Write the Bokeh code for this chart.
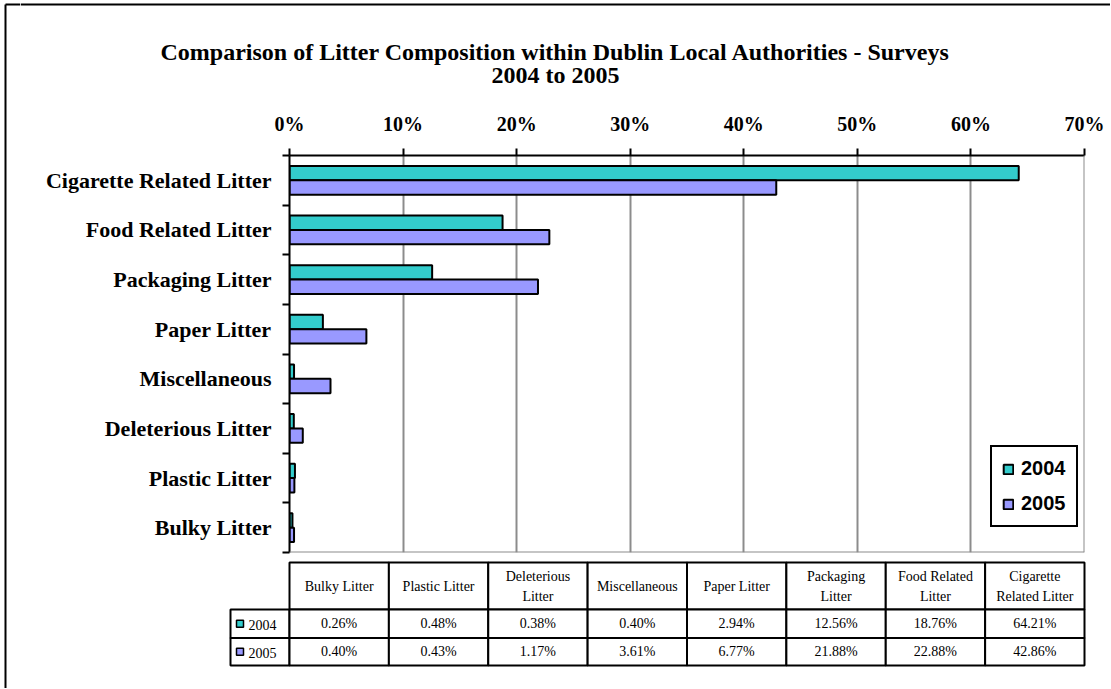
from bokeh.plotting import figure
from bokeh.layouts import row, column
from bokeh.models import (Range1d, FixedTicker, PrintfTickFormatter, Legend, LegendItem, Span,
                          Plot)
from bokeh.core.properties import value
from bokeh.embed import file_html
from bokeh.resources import INLINE

# ---------------- data ----------------
categories = ["Bulky Litter", "Plastic Litter", "Deleterious Litter", "Miscellaneous",
              "Paper Litter", "Packaging Litter", "Food Related Litter",
              "Cigarette Related Litter"]
table_headers = ["Bulky Litter", "Plastic Litter", "Deleterious\nLitter", "Miscellaneous",
                 "Paper Litter", "Packaging\nLitter", "Food Related\nLitter",
                 "Cigarette\nRelated Litter"]
years = ["2004", "2005"]
values_2004 = [0.26, 0.48, 0.38, 0.40, 2.94, 12.56, 18.76, 64.21]
values_2005 = [0.40, 0.43, 1.17, 3.61, 6.77, 21.88, 22.88, 42.86]
x_ticks = [0, 10, 20, 30, 40, 50, 60, 70]
title_lines = ["Comparison of Litter Composition within Dublin Local Authorities - Surveys",
               "2004 to 2005"]
colors = ["#33CCCC", "#9999FF"]

SERIF = "Liberation Serif"
SANS = "Liberation Sans"

# ---------------- page geometry (page px) ----------------
TOTAL_W, TOTAL_H = 1110, 688
S = 20                       # left strip width (holds outer border line)
MW = TOTAL_W - S             # main column width
HEAD_H = 100                 # title area height
TABLE_TOP = 556
CHART_H = TABLE_TOP - HEAD_H
TABLE_H = TOTAL_H - TABLE_TOP
F_LEFT, F_RIGHT, F_TOP, F_BOTTOM = 289, 1084, 155, 552

HAS_FA = "frame_align" in Plot.properties()


def no_align(f):
    if HAS_FA:
        f.frame_align = False
    return f


def canvas_fig(w, h):
    f = figure(width=w, height=h, x_range=Range1d(0, w), y_range=Range1d(h, 0),
               x_axis_type=None, y_axis_type=None, output_backend="svg",
               toolbar_location=None, min_border=0, title=None,
               outline_line_color=None, background_fill_color="white",
               border_fill_color="white")
    return no_align(f)


# ---------------- left strip (outer border) ----------------
strip = canvas_fig(S, TOTAL_H)
strip.segment(x0=[5, 5], y0=[4, 4], x1=[5, S], y1=[TOTAL_H, 4], line_color="black",
              line_width=2)

# ---------------- header with title ----------------
head = canvas_fig(MW, HEAD_H)
head.segment(x0=[0], y0=[4], x1=[MW], y1=[4], line_color="black", line_width=2)
head.text(x=[555 - S] * 2, y=[51, 74], text=title_lines, text_font=value(SERIF),
          text_font_size=value("24px"), text_font_style="bold", text_align="center",
          text_baseline="middle", text_color="black")

# ---------------- chart ----------------
n = len(categories)
p = figure(width=MW, height=CHART_H, x_range=Range1d(0, 70), y_range=Range1d(0, n),
           x_axis_location="above", output_backend="svg", toolbar_location=None,
           title=None,
           min_border_left=F_LEFT - S, min_border_right=MW - (F_RIGHT - S),
           min_border_top=F_TOP - HEAD_H, min_border_bottom=TABLE_TOP - F_BOTTOM,
           background_fill_color="white", border_fill_color="white",
           outline_line_color=None)
no_align(p)

xa = p.xaxis[0]
xa.ticker = FixedTicker(ticks=x_ticks)
xa.formatter = PrintfTickFormatter(format="%d%%")
xa.major_label_text_font = SERIF
xa.major_label_text_font_style = "bold"
xa.major_label_text_font_size = "20px"
xa.major_label_text_color = "black"
xa.axis_line_width = 2
xa.axis_line_color = "black"
xa.major_tick_line_width = 2
xa.major_tick_out = 7
xa.major_tick_in = 0
xa.minor_tick_line_color = None
xa.major_label_standoff = 14

ya = p.yaxis[0]
ya.ticker = FixedTicker(ticks=[i + 0.5 for i in range(n)], minor_ticks=list(range(n + 1)))
ya.major_label_overrides = {i + 0.5: c for i, c in enumerate(categories)}
ya.major_label_text_font = SERIF
ya.major_label_text_font_style = "bold"
ya.major_label_text_font_size = "22px"
ya.major_label_text_color = "black"
ya.axis_line_width = 2
ya.axis_line_color = "black"
ya.major_tick_line_color = None
ya.minor_tick_line_color = "black"
ya.minor_tick_line_width = 2
ya.minor_tick_out = 7
ya.minor_tick_in = 0
ya.major_label_standoff = 11

p.xgrid.grid_line_color = "#8c8c8c"
p.xgrid.grid_line_width = 2
p.ygrid.grid_line_color = None
p.add_layout(Span(location=0, dimension="width", line_color="#8c8c8c", line_width=2))
p.add_layout(Span(location=70, dimension="height", line_color="#8c8c8c", line_width=2))

bh = 0.29
r1 = p.hbar(y=[i + 0.5 + bh / 2 for i in range(n)], left=0, right=values_2004, height=bh,
            fill_color=colors[0], line_color="black", line_width=2)
r2 = p.hbar(y=[i + 0.5 - bh / 2 for i in range(n)], left=0, right=values_2005, height=bh,
            fill_color=colors[1], line_color="black", line_width=2)

legend = Legend(items=[LegendItem(label=years[0], renderers=[r1]),
                       LegendItem(label=years[1], renderers=[r2])],
                location=(701, 25), border_line_color="black", border_line_width=2,
                border_line_alpha=1, background_fill_color="white", background_fill_alpha=1,
                label_text_font=SANS, label_text_font_style="bold",
                label_text_color="black",
                label_text_font_size="20px", glyph_width=12, glyph_height=12,
                label_standoff=7, padding=10, spacing=12, margin=0, label_height=20)
p.add_layout(legend)

# ---------------- data table ----------------
t = canvas_fig(MW, TABLE_H)
cw = (F_RIGHT - F_LEFT) / n
col_l = [F_LEFT - S + j * cw for j in range(n)]
row_label_l = 230 - S
ht, hb = 562 - TABLE_TOP, 609 - TABLE_TOP
row_edges = [hb, 637.5 - TABLE_TOP, 665 - TABLE_TOP]

# header cells
t.quad(left=col_l, right=[c + cw for c in col_l], top=[ht] * n, bottom=[hb] * n,
       fill_color="white", line_color="black", line_width=2)
hx, hy, htxt = [], [], []
for j, h in enumerate(table_headers):
    lines = h.split("\n")
    cy = (ht + hb) / 2
    offs = [0] if len(lines) == 1 else [-10, 10]
    for ln, o in zip(lines, offs):
        hx.append(col_l[j] + cw / 2)
        hy.append(cy + o)
        htxt.append(ln)
t.text(x=hx, y=hy, text=htxt, text_font=value(SERIF), text_font_size=value("14px"),
       text_align="center", text_baseline="middle", text_color="black")

rows = [values_2004, values_2005]
for k, vals in enumerate(rows):
    top, bot = row_edges[k], row_edges[k + 1]
    cy = (top + bot) / 2
    t.quad(left=[row_label_l] + col_l, right=[F_LEFT - S] + [c + cw for c in col_l],
           top=[top] * (n + 1), bottom=[bot] * (n + 1),
           fill_color="white", line_color="black", line_width=2)
    t.quad(left=[row_label_l + 6], right=[row_label_l + 13], top=[cy - 3.5],
           bottom=[cy + 3.5], fill_color=colors[k], line_color="black", line_width=1.5)
    t.text(x=[row_label_l + 18], y=[cy + 1], text=[years[k]], text_font=value(SERIF),
           text_font_size=value("14px"), text_align="left", text_baseline="middle",
           text_color="black")
    t.text(x=[c + cw / 2 for c in col_l], y=[cy] * n, text=[f"{v:.2f}%" for v in vals],
           text_font=value(SERIF), text_font_size=value("14px"), text_align="center",
           text_baseline="middle", text_color="black")

layout = row(strip, column(head, p, t))
open("out.html", "w").write(file_html(layout, INLINE))
